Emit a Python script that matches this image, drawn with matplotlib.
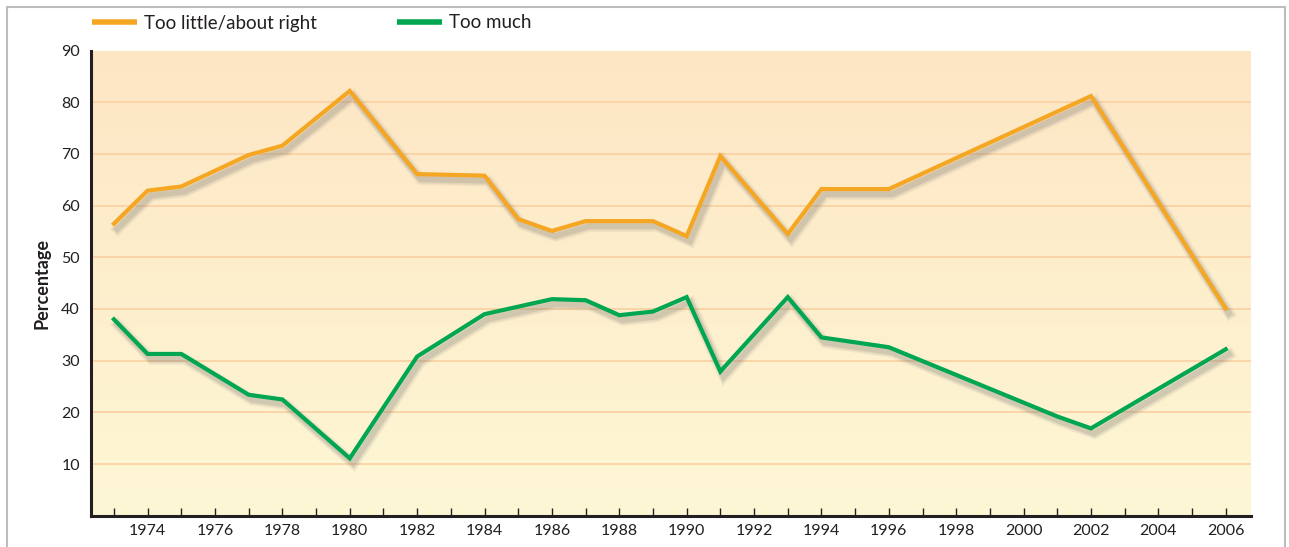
import numpy as np
import matplotlib
matplotlib.use("Agg")
import matplotlib.pyplot as plt
import matplotlib.patheffects as pe
from matplotlib.colors import LinearSegmentedColormap
from matplotlib.lines import Line2D
from matplotlib.patches import Rectangle

plt.rcParams['font.family'] = ['Lato', 'DejaVu Sans']

# ---- data ----
years_little = [1973, 1974, 1975, 1977, 1978, 1980, 1982, 1984, 1985, 1986,
                1987, 1989, 1990, 1991, 1993, 1994, 1996, 2002, 2006]
too_little = [56.5, 62.9, 63.7, 69.8, 71.6, 82.2, 66.1, 65.8, 57.4, 55.1,
              57.0, 57.0, 54.1, 69.6, 54.5, 63.2, 63.2, 81.2, 40.1]

years_much = [1973, 1974, 1975, 1977, 1978, 1980, 1982, 1984, 1986, 1987,
              1988, 1989, 1990, 1991, 1993, 1994, 1996, 2001, 2002, 2006]
too_much = [38.0, 31.3, 31.3, 23.4, 22.5, 11.1, 30.8, 39.0, 41.9, 41.7,
            38.8, 39.5, 42.3, 27.9, 42.3, 34.5, 32.6, 19.2, 16.9, 32.2]

series_labels = ["Too little/about right", "Too much"]
y_ticks = [10, 20, 30, 40, 50, 60, 70, 80, 90]
grid_values = [10, 20, 30, 40, 50, 60, 70, 80]
major_years = list(range(1974, 2007, 2))
minor_years = list(range(1973, 2006, 2))

ORANGE = "#F5A623"
GREEN = "#00A651"

W, H = 1289, 547
fig = plt.figure(figsize=(W / 100, H / 100), dpi=100)
fig.patch.set_facecolor("white")

# outer gray frame
fig.add_artist(Rectangle((7 / W, -0.05), (1285 - 7) / W, 1.05 - 7 / H,
                         transform=fig.transFigure, fill=False,
                         edgecolor="#BDBDBD", linewidth=1.5))

left, right = 91 / W, 1251 / W
bottom, top = (H - 515.7) / H, (H - 50.6) / H
ax = fig.add_axes([left, bottom, right - left, top - bottom])

ax.set_xlim(1972.32, 2006.75)
ax.set_ylim(0, 90)

# background gradient
cmap = LinearSegmentedColormap.from_list("bg", ["#FEF7D5", "#FDE6C4"])
grad = np.linspace(0, 1, 256).reshape(-1, 1)
ax.imshow(grad, extent=[0, 1, 0, 1], transform=ax.transAxes, origin="lower",
          aspect="auto", cmap=cmap, zorder=0)

ax.hlines(grid_values, 1972.32, 2006.75, colors="#FAD0A0", linewidth=1.2, zorder=1)

def shadow_effects():
    effs = []
    for dx, dy, a, lw in [(2.8, -3.8, 0.07, 8), (2.6, -3.8, 0.10, 6), (2.4, -3.6, 0.15, 4.2)]:
        effs.append(pe.SimpleLineShadow(offset=(dx, dy), shadow_color="#666666",
                                        alpha=a, linewidth=lw))
    effs.append(pe.Normal())
    return effs

ax.plot(years_little, too_little, color=ORANGE, linewidth=3.0, zorder=3,
        solid_joinstyle="miter", path_effects=shadow_effects())
ax.plot(years_much, too_much, color=GREEN, linewidth=3.0, zorder=3,
        solid_joinstyle="miter", path_effects=shadow_effects())

# axes styling
for s in ["top", "right"]:
    ax.spines[s].set_visible(False)
for s in ["left", "bottom"]:
    ax.spines[s].set_linewidth(2.2)
    ax.spines[s].set_color("#231F20")
    ax.spines[s].set_zorder(5)

ax.set_yticks(y_ticks)
ax.set_yticklabels([str(v) for v in y_ticks])
ax.tick_params(axis="y", length=0, pad=8, labelsize=11.5, labelcolor="#231F20")

ax.set_xticks(major_years)
ax.set_xticklabels([str(y) for y in major_years])
ax.set_xticks(minor_years, minor=True)
ax.tick_params(axis="x", which="both", direction="in", length=6, width=1,
               color="#231F20", labelsize=11.5, labelcolor="#231F20", pad=6)

ax.set_ylabel("Percentage", fontsize=13, fontweight="bold", color="#231F20", labelpad=8)

# legend
handles = [Line2D([], [], color=ORANGE, linewidth=4.0, solid_capstyle="butt"),
           Line2D([], [], color=GREEN, linewidth=4.0, solid_capstyle="butt")]
fig.legend(handles, series_labels, loc="center left",
           bbox_to_anchor=(92 / W, 1 - 23 / H), ncol=2, frameon=False,
           borderpad=0, borderaxespad=0,
           fontsize=13.5, handlelength=2.4, handletextpad=0.35,
           columnspacing=4.3, labelcolor="#231F20")

fig.savefig("out.png", dpi=100)
